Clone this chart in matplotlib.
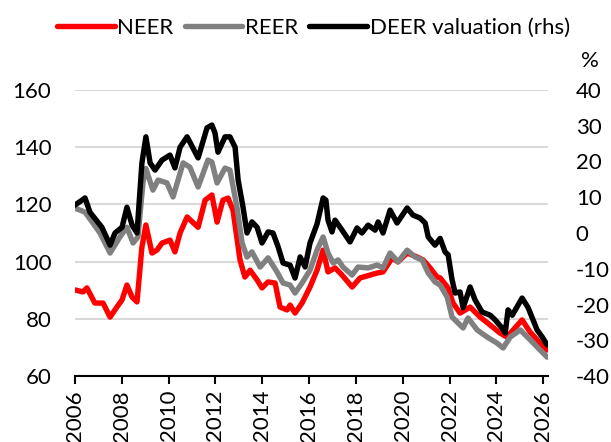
import matplotlib.pyplot as plt

plt.rcParams["font.family"] = ["Lato", "DejaVu Sans"]
plt.rcParams["axes.unicode_minus"] = False

# NEER index (lhs), sampled at decimal-year dates
neer_t = [2006.00, 2006.34, 2006.51, 2006.85, 2007.20, 2007.50, 2007.79, 2008.01,
          2008.22, 2008.44, 2008.65, 2008.86, 2009.03, 2009.29, 2009.50, 2009.72,
          2010.06, 2010.27, 2010.49, 2010.79, 2011.26, 2011.56, 2011.85, 2012.07,
          2012.32, 2012.54, 2012.75, 2013.05, 2013.26, 2013.48, 2013.78, 2013.99,
          2014.25, 2014.55, 2014.76, 2015.06, 2015.19, 2015.40, 2015.70, 2016.04,
          2016.34, 2016.60, 2016.81, 2017.11, 2017.41, 2017.84, 2018.18, 2018.61,
          2018.91, 2019.16, 2019.55, 2019.80, 2020.19, 2020.62, 2020.87, 2021.17,
          2021.47, 2021.60, 2021.94, 2022.15, 2022.45, 2022.88, 2023.31, 2023.74,
          2024.16, 2024.46, 2024.72, 2025.10, 2025.44, 2025.87, 2026.17]
neer = [90.1, 89.4, 90.8, 85.5, 85.5, 80.6, 84.1, 86.6,
        91.8, 87.6, 85.9, 105.1, 112.8, 103.0, 104.0, 106.5,
        107.5, 103.4, 110.0, 115.6, 112.0, 121.5, 123.3, 113.8,
        121.5, 122.2, 118.0, 100.6, 94.6, 97.0, 93.6, 90.8,
        92.9, 92.5, 84.1, 83.1, 84.8, 82.0, 85.5, 91.1,
        97.0, 104.0, 96.4, 97.8, 95.3, 91.1, 94.3, 95.3,
        96.0, 96.4, 101.3, 99.9, 103.0, 101.6, 100.6, 97.8,
        94.6, 94.3, 90.8, 85.5, 82.0, 84.1, 80.6, 77.8,
        75.0, 73.6, 76.1, 79.6, 75.4, 71.5, 69.1]

# REER index (lhs)
reer_t = [2006.00, 2006.43, 2007.07, 2007.50, 2007.92, 2008.22, 2008.48, 2008.69,
          2008.91, 2009.03, 2009.33, 2009.55, 2009.93, 2010.19, 2010.62, 2010.91,
          2011.26, 2011.68, 2011.85, 2012.07, 2012.41, 2012.62, 2012.92, 2013.14,
          2013.35, 2013.56, 2013.91, 2014.25, 2014.63, 2014.89, 2015.19, 2015.40,
          2015.70, 2016.04, 2016.34, 2016.60, 2016.81, 2017.03, 2017.24, 2017.45,
          2017.84, 2018.09, 2018.52, 2018.91, 2019.16, 2019.46, 2019.80, 2020.19,
          2020.53, 2020.83, 2021.09, 2021.38, 2021.60, 2021.90, 2022.11, 2022.32,
          2022.58, 2022.79, 2023.18, 2023.61, 2024.03, 2024.29, 2024.59, 2025.02,
          2025.44, 2025.87, 2026.17]
reer = [118.7, 117.3, 110.0, 103.0, 108.6, 112.0, 106.5, 108.6,
        128.0, 132.5, 125.0, 128.5, 127.5, 122.6, 134.5, 133.0,
        126.1, 135.5, 134.8, 127.5, 132.7, 132.0, 119.0, 106.5,
        101.6, 103.4, 98.1, 101.3, 96.4, 92.5, 91.8, 89.0,
        92.5, 97.0, 104.0, 108.6, 103.0, 99.5, 100.6, 98.1,
        95.3, 98.1, 97.8, 98.8, 97.8, 103.0, 99.9, 104.0,
        101.6, 100.6, 96.0, 92.9, 91.8, 87.6, 80.6, 78.9,
        76.8, 80.3, 76.1, 73.6, 71.5, 69.8, 73.6, 76.1,
        72.7, 69.1, 66.6]

# DEER valuation in % (rhs)
deer_t = [2006.00, 2006.43, 2006.64, 2007.15, 2007.50, 2007.71, 2008.01, 2008.22,
          2008.44, 2008.65, 2008.86, 2009.03, 2009.21, 2009.42, 2009.72, 2010.06,
          2010.27, 2010.49, 2010.79, 2010.91, 2011.26, 2011.64, 2011.85, 2011.98,
          2012.11, 2012.41, 2012.62, 2012.84, 2012.97, 2013.18, 2013.35, 2013.56,
          2013.78, 2013.99, 2014.25, 2014.46, 2014.68, 2014.89, 2015.19, 2015.40,
          2015.62, 2015.83, 2016.04, 2016.34, 2016.60, 2016.72, 2016.81, 2016.98,
          2017.11, 2017.41, 2017.75, 2018.05, 2018.26, 2018.52, 2018.82, 2018.95,
          2019.16, 2019.46, 2019.76, 2020.19, 2020.44, 2020.74, 2020.96, 2021.09,
          2021.38, 2021.60, 2021.81, 2021.94, 2022.11, 2022.24, 2022.45, 2022.58,
          2022.88, 2023.09, 2023.39, 2023.74, 2023.95, 2024.25, 2024.38, 2024.50,
          2024.68, 2025.10, 2025.36, 2025.74, 2025.96, 2026.17]
deer = [7.8, 9.8, 5.8, 1.6, -3.4, 0.0, 1.6, 7.2,
        2.2, 0.0, 19.6, 26.9, 19.6, 17.6, 20.4, 21.8,
        18.2, 24.0, 26.9, 25.4, 21.0, 29.4, 30.2, 28.0,
        22.6, 26.9, 26.9, 24.0, 14.8, 7.2, 0.0, 3.1,
        1.6, -2.8, 0.3, 0.0, -3.9, -8.4, -9.0, -12.6,
        -6.7, -9.5, -2.8, 2.5, 9.8, 9.2, 3.6, 0.3,
        3.6, 0.8, -2.5, 1.4, 0.0, 2.2, 0.8, 3.1,
        0.0, 6.4, 2.8, 7.0, 5.0, 4.2, 2.8, -1.1,
        -3.4, -1.5, -5.3, -6.1, -13.1, -16.8, -16.5, -20.9,
        -15.1, -18.7, -22.1, -23.0, -24.3, -26.6, -28.0, -21.5,
        -23.0, -18.2, -20.9, -27.1, -29.1, -31.3]

year_ticks = list(range(2006, 2027, 2))

fig = plt.figure(figsize=(6.11, 4.42), dpi=100)
ax = fig.add_axes([0.1227, 0.1493, 0.7743, 0.6471])
ax2 = ax.twinx()

ln1, = ax.plot(neer_t, neer, color="#ff0000", lw=3.9, solid_capstyle="round", zorder=2)
ln2, = ax.plot(reer_t, reer, color="#808080", lw=3.9, solid_capstyle="round", zorder=3)
ln3, = ax2.plot(deer_t, deer, color="black", lw=3.9, solid_capstyle="round", zorder=4)

ax.set_xlim(2006, 2026.21)
ax.set_ylim(60, 160)
ax2.set_ylim(-40, 40)
ax.set_yticks(range(60, 161, 20))
ax2.set_yticks(range(-40, 41, 10))
ax.set_xticks(year_ticks)
ax.set_xticklabels([str(y) for y in year_ticks], rotation=90)

ax.yaxis.grid(True, color="#d9d9d9", lw=1.5)
ax.set_axisbelow(True)

for a in (ax, ax2):
    for side in ("top", "left", "right"):
        a.spines[side].set_visible(False)
ax2.spines["bottom"].set_visible(False)
ax.spines["bottom"].set_color("black")
ax.spines["bottom"].set_linewidth(1.5)

ax.tick_params(axis="y", length=0, pad=17, labelsize=16)
ax2.tick_params(axis="y", length=0, pad=20, labelsize=16)
ax.tick_params(axis="x", direction="out", length=6, width=1.5, pad=4, labelsize=16)
for lbl in ax2.get_yticklabels():
    lbl.set_horizontalalignment("left")

fig.text(0.965, 0.862, "%", fontsize=16, ha="center", va="center")

fig.legend([ln1, ln2, ln3], ["NEER", "REER", "DEER valuation (rhs)"],
           loc="center", bbox_to_anchor=(0.513, 0.937), ncol=3, frameon=False,
           fontsize=16, handlelength=2.6, handletextpad=0.12, columnspacing=0.5)

fig.savefig("out.png", dpi=100)
